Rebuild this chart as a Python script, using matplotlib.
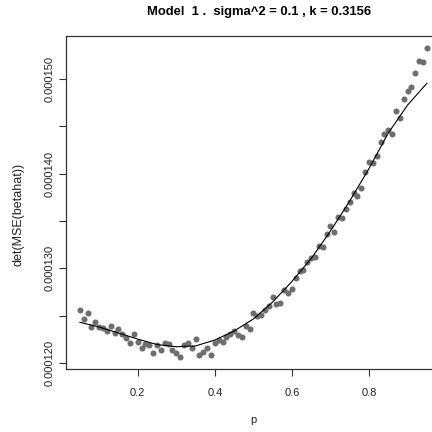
import matplotlib
matplotlib.use("Agg")
import matplotlib.pyplot as plt
import numpy as np

plt.rcParams['font.family'] = ['Liberation Sans', 'DejaVu Sans']

# simulated points
p_points = [round(0.05 + 0.01 * i, 2) for i in range(91)]
det_points = [
    1.2560e-4, 1.2461e-4, 1.2533e-4, 1.2385e-4, 1.2438e-4, 1.2377e-4, 1.2366e-4, 1.2335e-4, 1.2391e-4, 1.2322e-4,
    1.2359e-4, 1.2306e-4, 1.2261e-4, 1.2208e-4, 1.2309e-4, 1.2225e-4, 1.2155e-4, 1.2201e-4, 1.2195e-4, 1.2108e-4,
    1.2190e-4, 1.2137e-4, 1.2208e-4, 1.2201e-4, 1.2137e-4, 1.2106e-4, 1.2067e-4, 1.2190e-4, 1.2208e-4, 1.2155e-4,
    1.2253e-4, 1.2084e-4, 1.2113e-4, 1.2155e-4, 1.2084e-4, 1.2214e-4, 1.2243e-4, 1.2225e-4, 1.2278e-4, 1.2306e-4,
    1.2338e-4, 1.2299e-4, 1.2278e-4, 1.2391e-4, 1.2359e-4, 1.2533e-4, 1.2493e-4, 1.2510e-4, 1.2565e-4, 1.2607e-4,
    1.2697e-4, 1.2626e-4, 1.2634e-4, 1.2774e-4, 1.2736e-4, 1.2779e-4, 1.2900e-4, 1.2974e-4, 1.2982e-4, 1.3064e-4,
    1.3111e-4, 1.3116e-4, 1.3236e-4, 1.3222e-4, 1.3362e-4, 1.3452e-4, 1.3387e-4, 1.3547e-4, 1.3531e-4, 1.3623e-4,
    1.3698e-4, 1.3798e-4, 1.3764e-4, 1.3845e-4, 1.4020e-4, 1.4119e-4, 1.4112e-4, 1.4191e-4, 1.4332e-4, 1.4423e-4,
    1.4464e-4, 1.4418e-4, 1.4661e-4, 1.4584e-4, 1.4788e-4, 1.4872e-4, 1.4918e-4, 1.5062e-4, 1.5189e-4, 1.5175e-4,
    1.5326e-4,
]

# theoretical curve
p_curve = [0.05, 0.10, 0.15, 0.20, 0.25, 0.30, 0.35, 0.40, 0.45, 0.50,
           0.55, 0.60, 0.65, 0.70, 0.75, 0.80, 0.85, 0.90, 0.95]
det_curve = [1.2430e-4, 1.2380e-4, 1.2317e-4, 1.2253e-4, 1.2195e-4, 1.2172e-4, 1.2180e-4, 1.2243e-4,
             1.2338e-4, 1.2465e-4, 1.2644e-4, 1.2861e-4, 1.3104e-4, 1.3394e-4, 1.3711e-4, 1.4054e-4,
             1.4429e-4, 1.4724e-4, 1.4954e-4]

x_ticks = [0.2, 0.4, 0.6, 0.8]
y_ticks = [0.000120, 0.000125, 0.000130, 0.000135, 0.000140, 0.000145, 0.000150]
y_labels = ["0.000120", "", "0.000130", "", "0.000140", "", "0.000150"]

title = "Model  1 .  sigma^2 = 0.1 , k = 0.3156"

fig = plt.figure(figsize=(4.32, 4.32), dpi=100)
ax = fig.add_axes([0.1528, 0.1458, 0.8674, 0.7715])

ax.scatter(p_points, det_points, s=19, color='#6e6e6e', linewidths=0, zorder=2)
ax.plot(p_curve, det_curve, color='black', lw=0.8, zorder=3)

# R-style 4% padding
xr = max(p_points) - min(p_points)
ax.set_xlim(min(p_points) - 0.04 * xr, max(p_points) + 0.04 * xr)
ymin = min(min(det_points), min(det_curve))
ymax = max(max(det_points), max(det_curve))
yr = ymax - ymin
ax.set_ylim(ymin - 0.04 * yr, ymax + 0.04 * yr)

ax.set_xticks(x_ticks)
ax.set_xticklabels([f"{v:.1f}" for v in x_ticks], fontsize=8, color='#222222')
ax.set_yticks(y_ticks)
ax.set_yticklabels(y_labels, fontsize=8, rotation=90, va='center', color='#222222')

ax.tick_params(axis='both', direction='out', length=5, width=0.8, color='#333333')
ax.tick_params(axis='x', pad=9)
ax.tick_params(axis='y', pad=3)

for s in ax.spines.values():
    s.set_color('#333333')
    s.set_linewidth(0.9)

ax.set_xlabel("p", fontsize=8, labelpad=12, color='#222222')
fig.text(19 / 432, 1 - 214 / 432, "det(MSE(betahat))", rotation=90, ha='center', va='center',
         fontsize=9, color='#222222')
fig.text(0.600, 0.972, title, ha='center', va='center', fontsize=9.4, fontweight='bold')

fig.savefig("out.png", dpi=100)
